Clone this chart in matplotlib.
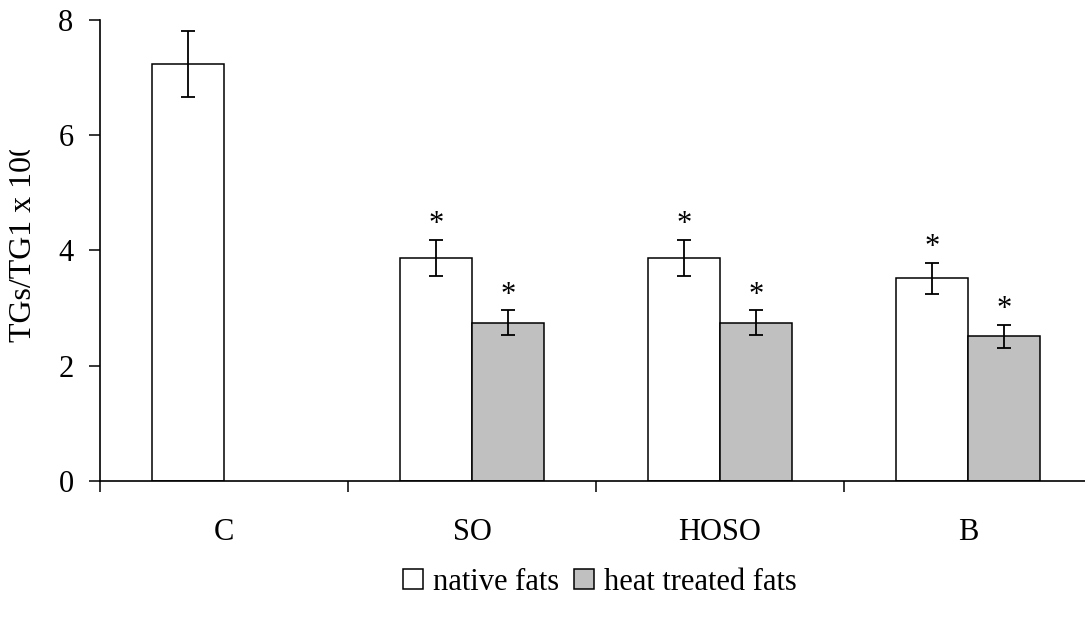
import matplotlib
matplotlib.use("Agg")
import matplotlib.pyplot as plt
from matplotlib.patches import Patch
from matplotlib.transforms import Bbox
import numpy as np

categories = ["C", "SO", "HOSO", "B"]
native = [7.24, 3.87, 3.87, 3.52]
native_err = [0.57, 0.31, 0.31, 0.27]
heat = [np.nan, 2.75, 2.75, 2.51]
heat_err = [np.nan, 0.21, 0.21, 0.20]
native_star = [False, True, True, True]
heat_star = [False, True, True, True]
yticks = [0, 2, 4, 6, 8]
ylabel = "TGs/TG1 x 100"
legend_labels = ["native fats", "heat treated fats"]

FS = 22
plt.rcParams['font.family'] = ['Liberation Serif', 'DejaVu Serif']
plt.rcParams['font.size'] = FS

fig = plt.figure(figsize=(10.85, 6.22), dpi=100)
ax = fig.add_axes([100/1085, 141/622, 985/1085, 461/622])

x = np.arange(len(categories))
w = 0.29
gray = "#C0C0C0"
ax.bar(x - w/2, native, w, color="white", edgecolor="black", linewidth=1.1, zorder=2)
hx = x[1:] + w/2
ax.bar(hx, heat[1:], w, color=gray, edgecolor="black", linewidth=1.1, zorder=2)
ax.errorbar(x - w/2, native, yerr=native_err, fmt="none", ecolor="black",
            elinewidth=1.3, capsize=5, capthick=1.3, zorder=3)
ax.errorbar(hx, heat[1:], yerr=heat_err[1:], fmt="none", ecolor="black",
            elinewidth=1.3, capsize=5, capthick=1.3, zorder=3)

for i in range(len(categories)):
    if native_star[i]:
        ax.annotate("*", (x[i] - w/2, native[i] + native_err[i]), xytext=(0, 11),
                    textcoords="offset points", ha="center", va="center", fontsize=FS)
    if heat_star[i]:
        ax.annotate("*", (x[i] + w/2, heat[i] + heat_err[i]), xytext=(0, 11),
                    textcoords="offset points", ha="center", va="center", fontsize=FS)

ax.set_xlim(-0.5, 3.472)
ax.set_ylim(0, 8)
ax.set_yticks(yticks)
ax.set_xticks([-0.5, 0.5, 1.5, 2.5])
ax.set_xticklabels([])
ax.set_xticks(x, minor=True)
ax.set_xticklabels(categories, minor=True)
ax.tick_params(axis="x", which="minor", length=0, pad=27, labelsize=FS)
ax.tick_params(axis="x", which="major", direction="out", length=8, width=1.1)
ax.tick_params(axis="y", direction="out", length=8, width=1.1, pad=11, labelsize=FS)
for s in ["top", "right"]:
    ax.spines[s].set_visible(False)
for s in ["left", "bottom"]:
    ax.spines[s].set_linewidth(1.2)

t = ax.set_ylabel(ylabel, fontsize=23)
ax.yaxis.set_label_coords((38 - 100) / 985, (481 - 241) / 461)
# clip the label top as in the reference
t.set_clip_box(Bbox.from_extents(0, 0, 1085, 622 - 150))
t.set_clip_on(True)

handles = [Patch(facecolor="white", edgecolor="black", linewidth=1.1),
           Patch(facecolor=gray, edgecolor="black", linewidth=1.1)]
fig.legend(handles, legend_labels, loc="center", bbox_to_anchor=(600/1085, 1 - 582/622),
           ncol=2, frameon=False, handlelength=0.65, handleheight=0.65,
           handletextpad=0.32, columnspacing=0.5, fontsize=FS, borderpad=0)

fig.savefig("out.png", dpi=100)
